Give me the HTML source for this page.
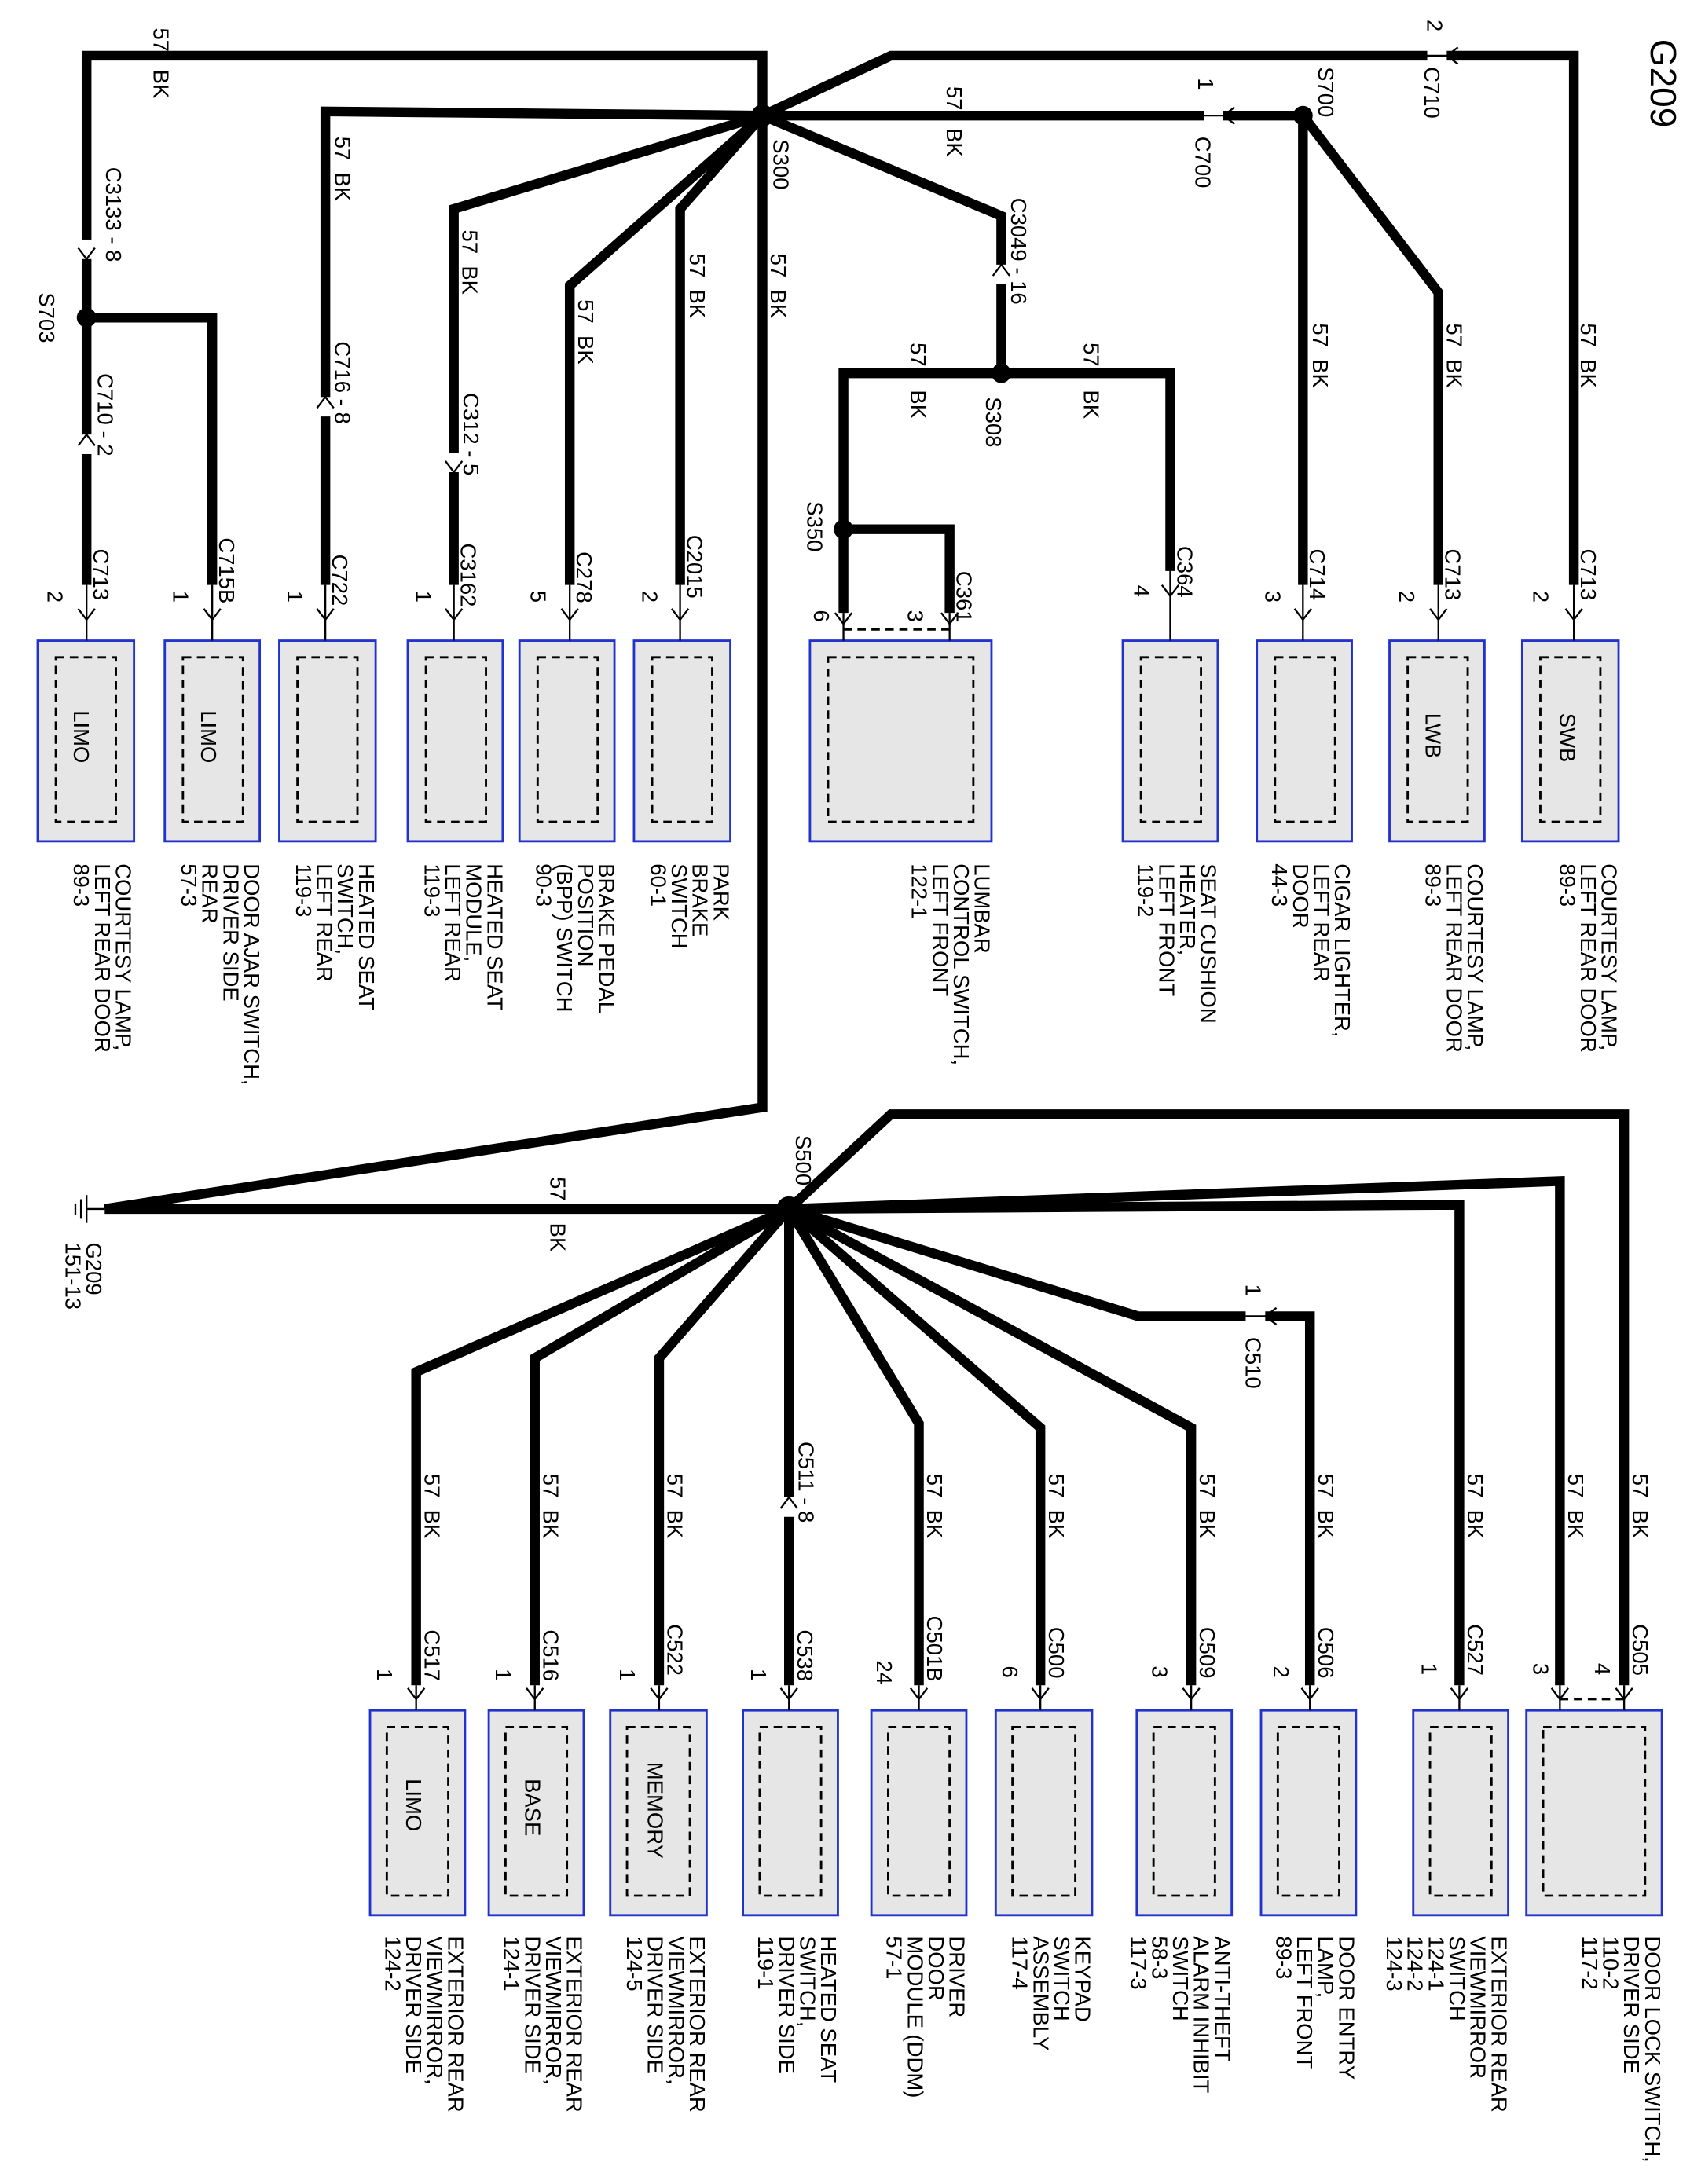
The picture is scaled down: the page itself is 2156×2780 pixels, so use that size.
<!DOCTYPE html>
<html><head><meta charset="utf-8"><style>
html,body{margin:0;padding:0;background:#fff}
svg{display:block}
text{font-family:"Liberation Sans",sans-serif;font-size:15.5px;fill:#000}
.w{stroke:#000;stroke-width:7;fill:none;stroke-linejoin:miter}
.t{stroke:#000;stroke-width:1.3;fill:none}
.b{fill:#e6e6e6;stroke:#2233cc;stroke-width:1.6}
.d{fill:none;stroke:#000;stroke-width:1.6;stroke-dasharray:6,4}
</style></head><body>
<svg width="2156" height="2780" viewBox="0 0 1213 1568" preserveAspectRatio="none" xmlns="http://www.w3.org/2000/svg">
<defs>
<g id="ch"><polyline class="t" points="-6,-8 0,0 6,-8" stroke-width="2"/></g>
</defs>

<polyline class="w" points="546,83 546,40 62,40 62,420"/>
<polyline class="w" points="62,228 152,228 152,420"/>
<polyline class="w" points="546,83 233,80 233,420"/>
<polyline class="w" points="546,83 325,150 325,420"/>
<polyline class="w" points="546,83 408,205 408,420"/>
<polyline class="w" points="546,83 487,150 487,420"/>
<polyline class="w" points="546,83 546,795 75,868"/>
<polyline class="w" points="546,83 638,40 1127,40 1127,420"/>
<polyline class="w" points="546,83 933,83 933,420"/>
<polyline class="w" points="933,83 1030,210 1030,420"/>
<polyline class="w" points="546,83 717,155 717,268"/>
<polyline class="w" points="604,440 604,268 838,268 838,410"/>
<polyline class="w" points="604,380 680,380 680,440"/>
<g fill="#fff" stroke="none">
<rect x="55" y="172" width="14" height="14"/><rect x="55" y="312" width="14" height="14"/>
<rect x="226" y="285" width="14" height="14"/><rect x="318" y="325" width="14" height="14"/>
<rect x="710" y="190" width="14" height="14"/><rect x="1022" y="33" width="14" height="14"/>
<rect x="862" y="76" width="14" height="14"/>
</g>
<use href="#ch" x="62" y="186"/><use href="#ch" transform="translate(62,312) rotate(180)"/>
<use href="#ch" transform="translate(233,285) rotate(180)"/><use href="#ch" x="325" y="339"/>
<use href="#ch" transform="translate(717,190) rotate(180)"/>
<use href="#ch" transform="translate(1036,40) rotate(90)"/><use href="#ch" transform="translate(876,83) rotate(90)"/>
<line class="t" x1="1022" y1="40" x2="1036" y2="40"/><line class="t" x1="862" y1="83" x2="876" y2="83"/>

<g fill="#000">
<circle cx="546" cy="83" r="8"/><circle cx="62" cy="228" r="7"/><circle cx="933" cy="83" r="7"/>
<circle cx="717" cy="268" r="7"/><circle cx="604" cy="380" r="7"/><circle cx="565" cy="868" r="9"/>
</g>

<g>
<rect class="b" x="27" y="460" width="69" height="144"/><rect class="d" x="40" y="472" width="43" height="118"/>
<rect class="b" x="118" y="460" width="68" height="144"/><rect class="d" x="131" y="472" width="43" height="118"/>
<rect class="b" x="200" y="460" width="69" height="144"/><rect class="d" x="213" y="472" width="43" height="118"/>
<rect class="b" x="292" y="460" width="68" height="144"/><rect class="d" x="305" y="472" width="43" height="118"/>
<rect class="b" x="372" y="460" width="68" height="144"/><rect class="d" x="385" y="472" width="43" height="118"/>
<rect class="b" x="454" y="460" width="69" height="144"/><rect class="d" x="467" y="472" width="43" height="118"/>
<rect class="b" x="580" y="460" width="130" height="144"/><rect class="d" x="593" y="472" width="104" height="118"/>
<rect class="b" x="804" y="460" width="68" height="144"/><rect class="d" x="817" y="472" width="43" height="118"/>
<rect class="b" x="900" y="460" width="68" height="144"/><rect class="d" x="913" y="472" width="43" height="118"/>
<rect class="b" x="995" y="460" width="68" height="144"/><rect class="d" x="1008" y="472" width="43" height="118"/>
<rect class="b" x="1090" y="460" width="69" height="144"/><rect class="d" x="1103" y="472" width="43" height="118"/>
</g>
<line class="d" x1="604" y1="452" x2="680" y2="452"/>
<g>
<line class="t" x1="62" y1="420" x2="62" y2="460"/><use href="#ch" x="62" y="445"/>
<line class="t" x1="152" y1="420" x2="152" y2="460"/><use href="#ch" x="152" y="445"/>
<line class="t" x1="233" y1="420" x2="233" y2="460"/><use href="#ch" x="233" y="445"/>
<line class="t" x1="325" y1="420" x2="325" y2="460"/><use href="#ch" x="325" y="445"/>
<line class="t" x1="408" y1="420" x2="408" y2="460"/><use href="#ch" x="408" y="445"/>
<line class="t" x1="487" y1="420" x2="487" y2="460"/><use href="#ch" x="487" y="445"/>
<line class="t" x1="604" y1="440" x2="604" y2="460"/><use href="#ch" x="604" y="448"/>
<line class="t" x1="680" y1="440" x2="680" y2="460"/><use href="#ch" x="680" y="448"/>
<line class="t" x1="838" y1="410" x2="838" y2="460"/><use href="#ch" x="838" y="428"/>
<line class="t" x1="933" y1="420" x2="933" y2="460"/><use href="#ch" x="933" y="445"/>
<line class="t" x1="1030" y1="420" x2="1030" y2="460"/><use href="#ch" x="1030" y="445"/>
<line class="t" x1="1127" y1="420" x2="1127" y2="460"/><use href="#ch" x="1127" y="445"/>
</g>

<polyline class="w" points="565,868 638,800 1163,800 1163,1210"/>
<polyline class="w" points="565,868 1117,848 1117,1210"/>
<polyline class="w" points="565,868 1045,865 1045,1210"/>
<polyline class="w" points="565,868 815,945 938,945 938,1210"/>
<polyline class="w" points="565,868 853,1025 853,1210"/>
<polyline class="w" points="565,868 745,1025 745,1210"/>
<polyline class="w" points="565,868 658,1022 658,1210"/>
<polyline class="w" points="565,868 565,1210"/>
<polyline class="w" points="565,868 472,975 472,1210"/>
<polyline class="w" points="565,868 383,975 383,1210"/>
<polyline class="w" points="565,868 298,985 298,1210"/>
<polyline class="w" points="565,868 75,868"/>
<g fill="#fff"><rect x="892" y="938" width="14" height="14"/><rect x="558" y="1075" width="14" height="14"/></g>
<line class="t" x1="892" y1="945" x2="906" y2="945"/><use href="#ch" transform="translate(906,945) rotate(90)"/>
<use href="#ch" transform="translate(565,1075) rotate(180)"/>
<circle cx="565" cy="868" r="9" fill="#000"/>
<g class="t" stroke-width="2"><line x1="75" y1="868" x2="62" y2="868"/><line x1="62" y1="858" x2="62" y2="878"/><line x1="58" y1="861" x2="58" y2="875"/><line x1="54" y1="864" x2="54" y2="872"/></g>

<g>
<rect class="b" x="265" y="1228" width="68" height="147"/><rect class="d" x="277" y="1240" width="44" height="121"/>
<rect class="b" x="350" y="1228" width="68" height="147"/><rect class="d" x="362" y="1240" width="44" height="121"/>
<rect class="b" x="437" y="1228" width="69" height="147"/><rect class="d" x="449" y="1240" width="45" height="121"/>
<rect class="b" x="532" y="1228" width="68" height="147"/><rect class="d" x="544" y="1240" width="44" height="121"/>
<rect class="b" x="624" y="1228" width="68" height="147"/><rect class="d" x="636" y="1240" width="44" height="121"/>
<rect class="b" x="713" y="1228" width="69" height="147"/><rect class="d" x="725" y="1240" width="45" height="121"/>
<rect class="b" x="814" y="1228" width="68" height="147"/><rect class="d" x="826" y="1240" width="44" height="121"/>
<rect class="b" x="903" y="1228" width="68" height="147"/><rect class="d" x="915" y="1240" width="44" height="121"/>
<rect class="b" x="1012" y="1228" width="68" height="147"/><rect class="d" x="1024" y="1240" width="44" height="121"/>
<rect class="b" x="1093" y="1228" width="97" height="147"/><rect class="d" x="1105" y="1240" width="73" height="121"/>
</g>
<line class="d" x1="1117" y1="1220" x2="1163" y2="1220"/>
<g>
<line class="t" x1="298" y1="1210" x2="298" y2="1228"/><use href="#ch" x="298" y="1220"/>
<line class="t" x1="383" y1="1210" x2="383" y2="1228"/><use href="#ch" x="383" y="1220"/>
<line class="t" x1="472" y1="1210" x2="472" y2="1228"/><use href="#ch" x="472" y="1220"/>
<line class="t" x1="565" y1="1210" x2="565" y2="1228"/><use href="#ch" x="565" y="1220"/>
<line class="t" x1="658" y1="1210" x2="658" y2="1228"/><use href="#ch" x="658" y="1220"/>
<line class="t" x1="745" y1="1210" x2="745" y2="1228"/><use href="#ch" x="745" y="1220"/>
<line class="t" x1="853" y1="1210" x2="853" y2="1228"/><use href="#ch" x="853" y="1220"/>
<line class="t" x1="938" y1="1210" x2="938" y2="1228"/><use href="#ch" x="938" y="1220"/>
<line class="t" x1="1045" y1="1210" x2="1045" y2="1228"/><use href="#ch" x="1045" y="1220"/>
<line class="t" x1="1117" y1="1210" x2="1117" y2="1228"/><use href="#ch" x="1117" y="1220"/>
<line class="t" x1="1163" y1="1210" x2="1163" y2="1228"/><use href="#ch" x="1163" y="1220"/>
</g>

<text transform="translate(1182,28) rotate(90)" style="font-size:26px">G209</text>

<text transform="translate(53,510) rotate(90)">LIMO</text>
<text transform="translate(144,510) rotate(90)">LIMO</text>
<text transform="translate(1021,512) rotate(90)">LWB</text>
<text transform="translate(1117,512) rotate(90)">SWB</text>
<text transform="translate(291,1277) rotate(90)">LIMO</text>
<text transform="translate(376,1277) rotate(90)">BASE</text>
<text transform="translate(464,1265) rotate(90)">MEMORY</text>

<g>
<text transform="translate(83,620) rotate(90)"><tspan x="0">COURTESY LAMP,</tspan><tspan x="0" dy="15">LEFT REAR DOOR</tspan><tspan x="0" dy="15">89-3</tspan></text>
<text transform="translate(175,620) rotate(90)"><tspan x="0">DOOR AJAR SWITCH,</tspan><tspan x="0" dy="15">DRIVER SIDE</tspan><tspan x="0" dy="15">REAR</tspan><tspan x="0" dy="15">57-3</tspan></text>
<text transform="translate(257,620) rotate(90)"><tspan x="0">HEATED SEAT</tspan><tspan x="0" dy="15">SWITCH,</tspan><tspan x="0" dy="15">LEFT REAR</tspan><tspan x="0" dy="15">119-3</tspan></text>
<text transform="translate(349,620) rotate(90)"><tspan x="0">HEATED SEAT</tspan><tspan x="0" dy="15">MODULE,</tspan><tspan x="0" dy="15">LEFT REAR</tspan><tspan x="0" dy="15">119-3</tspan></text>
<text transform="translate(429,620) rotate(90)"><tspan x="0">BRAKE PEDAL</tspan><tspan x="0" dy="15">POSITION</tspan><tspan x="0" dy="15">(BPP) SWITCH</tspan><tspan x="0" dy="15">90-3</tspan></text>
<text transform="translate(511,620) rotate(90)"><tspan x="0">PARK</tspan><tspan x="0" dy="15">BRAKE</tspan><tspan x="0" dy="15">SWITCH</tspan><tspan x="0" dy="15">60-1</tspan></text>
<text transform="translate(698,620) rotate(90)"><tspan x="0">LUMBAR</tspan><tspan x="0" dy="15">CONTROL SWITCH,</tspan><tspan x="0" dy="15">LEFT FRONT</tspan><tspan x="0" dy="15">122-1</tspan></text>
<text transform="translate(860,620) rotate(90)"><tspan x="0">SEAT CUSHION</tspan><tspan x="0" dy="15">HEATER,</tspan><tspan x="0" dy="15">LEFT FRONT</tspan><tspan x="0" dy="15">119-2</tspan></text>
<text transform="translate(956,620) rotate(90)"><tspan x="0">CIGAR LIGHTER,</tspan><tspan x="0" dy="15">LEFT REAR</tspan><tspan x="0" dy="15">DOOR</tspan><tspan x="0" dy="15">44-3</tspan></text>
<text transform="translate(1051,620) rotate(90)"><tspan x="0">COURTESY LAMP,</tspan><tspan x="0" dy="15">LEFT REAR DOOR</tspan><tspan x="0" dy="15">89-3</tspan></text>
<text transform="translate(1147,620) rotate(90)"><tspan x="0">COURTESY LAMP,</tspan><tspan x="0" dy="15">LEFT REAR DOOR</tspan><tspan x="0" dy="15">89-3</tspan></text>
</g>

<g>
<text transform="translate(321,1390) rotate(90)"><tspan x="0">EXTERIOR REAR</tspan><tspan x="0" dy="15">VIEWMIRROR,</tspan><tspan x="0" dy="15">DRIVER SIDE</tspan><tspan x="0" dy="15">124-2</tspan></text>
<text transform="translate(406,1390) rotate(90)"><tspan x="0">EXTERIOR REAR</tspan><tspan x="0" dy="15">VIEWMIRROR,</tspan><tspan x="0" dy="15">DRIVER SIDE</tspan><tspan x="0" dy="15">124-1</tspan></text>
<text transform="translate(494,1390) rotate(90)"><tspan x="0">EXTERIOR REAR</tspan><tspan x="0" dy="15">VIEWMIRROR,</tspan><tspan x="0" dy="15">DRIVER SIDE</tspan><tspan x="0" dy="15">124-5</tspan></text>
<text transform="translate(588,1390) rotate(90)"><tspan x="0">HEATED SEAT</tspan><tspan x="0" dy="15">SWITCH,</tspan><tspan x="0" dy="15">DRIVER SIDE</tspan><tspan x="0" dy="15">119-1</tspan></text>
<text transform="translate(680,1390) rotate(90)"><tspan x="0">DRIVER</tspan><tspan x="0" dy="15">DOOR</tspan><tspan x="0" dy="15">MODULE (DDM)</tspan><tspan x="0" dy="15">57-1</tspan></text>
<text transform="translate(770,1390) rotate(90)"><tspan x="0">KEYPAD</tspan><tspan x="0" dy="15">SWITCH</tspan><tspan x="0" dy="15">ASSEMBLY</tspan><tspan x="0" dy="15">117-4</tspan></text>
<text transform="translate(870,1390) rotate(90)"><tspan x="0">ANTI-THEFT</tspan><tspan x="0" dy="15">ALARM INHIBIT</tspan><tspan x="0" dy="15">SWITCH</tspan><tspan x="0" dy="15">58-3</tspan><tspan x="0" dy="15">117-3</tspan></text>
<text transform="translate(959,1390) rotate(90)"><tspan x="0">DOOR ENTRY</tspan><tspan x="0" dy="15">LAMP,</tspan><tspan x="0" dy="15">LEFT FRONT</tspan><tspan x="0" dy="15">89-3</tspan></text>
<text transform="translate(1068,1390) rotate(90)"><tspan x="0">EXTERIOR REAR</tspan><tspan x="0" dy="15">VIEWMIRROR</tspan><tspan x="0" dy="15">SWITCH</tspan><tspan x="0" dy="15">124-1</tspan><tspan x="0" dy="15">124-2</tspan><tspan x="0" dy="15">124-3</tspan></text>
<text transform="translate(1178,1390) rotate(90)"><tspan x="0">DOOR LOCK SWITCH,</tspan><tspan x="0" dy="15">DRIVER SIDE</tspan><tspan x="0" dy="15">110-2</tspan><tspan x="0" dy="15">117-2</tspan></text>
</g>

<g>
<text transform="translate(67,394) rotate(90)">C713</text><text transform="translate(34,424) rotate(90)">2</text>
<text transform="translate(157,386) rotate(90)">C715B</text><text transform="translate(124,424) rotate(90)">1</text>
<text transform="translate(238,398) rotate(90)">C722</text><text transform="translate(206,424) rotate(90)">1</text>
<text transform="translate(330,390) rotate(90)">C3162</text><text transform="translate(298,424) rotate(90)">1</text>
<text transform="translate(413,396) rotate(90)">C278</text><text transform="translate(380,424) rotate(90)">5</text>
<text transform="translate(492,384) rotate(90)">C2015</text><text transform="translate(460,424) rotate(90)">2</text>
<text transform="translate(685,410) rotate(90)">C361</text><text transform="translate(583,438) rotate(90)">6</text><text transform="translate(650,438) rotate(90)">3</text>
<text transform="translate(843,392) rotate(90)">C364</text><text transform="translate(812,420) rotate(90)">4</text>
<text transform="translate(938,394) rotate(90)">C714</text><text transform="translate(906,424) rotate(90)">3</text>
<text transform="translate(1035,394) rotate(90)">C713</text><text transform="translate(1002,424) rotate(90)">2</text>
<text transform="translate(1132,394) rotate(90)">C713</text><text transform="translate(1098,424) rotate(90)">2</text>
<text transform="translate(76,120) rotate(90)">C3133 - 8</text>
<text transform="translate(28,210) rotate(90)">S703</text>
<text transform="translate(70,268) rotate(90)">C710 - 2</text>
<text transform="translate(240,245) rotate(90)">C716 - 8</text>
<text transform="translate(332,282) rotate(90)">C312 - 5</text>
<text transform="translate(554,100) rotate(90)">S300</text>
<text transform="translate(724,142) rotate(90)">C3049 - 16</text>
<text transform="translate(706,285) rotate(90)">S308</text>
<text transform="translate(578,360) rotate(90)">S350</text>
<text transform="translate(856,98) rotate(90)">C700</text><text transform="translate(858,56) rotate(90)">1</text>
<text transform="translate(944,48) rotate(90)">S700</text>
<text transform="translate(1020,48) rotate(90)">C710</text><text transform="translate(1022,14) rotate(90)">2</text>
<text transform="translate(110,20) rotate(90)">57</text><text transform="translate(110,50) rotate(90)">BK</text>
<text transform="translate(240,98) rotate(90)">57&#160;&#160;BK</text>
<text transform="translate(331,165) rotate(90)">57&#160;&#160;BK</text>
<text transform="translate(414,215) rotate(90)">57&#160;&#160;BK</text>
<text transform="translate(494,182) rotate(90)">57&#160;&#160;BK</text>
<text transform="translate(552,182) rotate(90)">57&#160;&#160;BK</text>
<text transform="translate(678,62) rotate(90)">57</text><text transform="translate(678,92) rotate(90)">BK</text>
<text transform="translate(652,246) rotate(90)">57</text><text transform="translate(652,280) rotate(90)">BK</text>
<text transform="translate(776,246) rotate(90)">57</text><text transform="translate(776,280) rotate(90)">BK</text>
<text transform="translate(940,232) rotate(90)">57&#160;&#160;BK</text>
<text transform="translate(1036,232) rotate(90)">57&#160;&#160;BK</text>
<text transform="translate(1132,232) rotate(90)">57&#160;&#160;BK</text>
</g>

<g>
<text transform="translate(570,815) rotate(90)">S500</text>
<text transform="translate(394,845) rotate(90)">57</text><text transform="translate(394,878) rotate(90)">BK</text>
<text transform="translate(62,892) rotate(90)"><tspan x="0">G209</tspan><tspan x="0" dy="15">151-13</tspan></text>
<text transform="translate(892,960) rotate(90)">C510</text><text transform="translate(892,922) rotate(90)">1</text>
<text transform="translate(572,1035) rotate(90)">C511 - 8</text>
<text transform="translate(304,1058) rotate(90)">57&#160;&#160;BK</text>
<text transform="translate(389,1058) rotate(90)">57&#160;&#160;BK</text>
<text transform="translate(478,1058) rotate(90)">57&#160;&#160;BK</text>
<text transform="translate(664,1058) rotate(90)">57&#160;&#160;BK</text>
<text transform="translate(751,1058) rotate(90)">57&#160;&#160;BK</text>
<text transform="translate(859,1058) rotate(90)">57&#160;&#160;BK</text>
<text transform="translate(944,1058) rotate(90)">57&#160;&#160;BK</text>
<text transform="translate(1051,1058) rotate(90)">57&#160;&#160;BK</text>
<text transform="translate(1123,1058) rotate(90)">57&#160;&#160;BK</text>
<text transform="translate(1169,1058) rotate(90)">57&#160;&#160;BK</text>
<text transform="translate(304,1170) rotate(90)">C517</text><text transform="translate(270,1198) rotate(90)">1</text>
<text transform="translate(389,1170) rotate(90)">C516</text><text transform="translate(355,1198) rotate(90)">1</text>
<text transform="translate(478,1166) rotate(90)">C522</text><text transform="translate(444,1198) rotate(90)">1</text>
<text transform="translate(571,1170) rotate(90)">C538</text><text transform="translate(538,1198) rotate(90)">1</text>
<text transform="translate(664,1160) rotate(90)">C501B</text><text transform="translate(628,1192) rotate(90)">24</text>
<text transform="translate(751,1168) rotate(90)">C500</text><text transform="translate(718,1196) rotate(90)">6</text>
<text transform="translate(859,1168) rotate(90)">C509</text><text transform="translate(825,1196) rotate(90)">3</text>
<text transform="translate(944,1168) rotate(90)">C506</text><text transform="translate(912,1196) rotate(90)">2</text>
<text transform="translate(1051,1166) rotate(90)">C527</text><text transform="translate(1018,1194) rotate(90)">1</text>
<text transform="translate(1169,1166) rotate(90)">C505</text><text transform="translate(1098,1194) rotate(90)">3</text><text transform="translate(1142,1194) rotate(90)">4</text>
</g>
</svg>
</body></html>
